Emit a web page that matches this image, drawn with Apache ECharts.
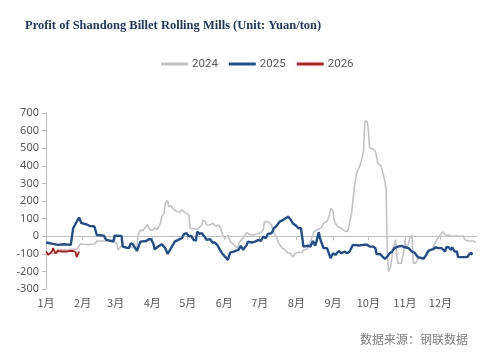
<!DOCTYPE html>
<html>
<head>
<meta charset="utf-8">
<script src="https://cdn.jsdelivr.net/npm/echarts@6/dist/echarts.min.js"></script>
<style>
html,body{margin:0;padding:0;background:#fff;}
#chart{width:494px;height:355px;}
</style>
</head>
<body>
<div id="chart"></div>
<script>
// Day-of-year of month starts and their labels
var monthStarts = [0, 31, 59, 90, 120, 151, 181, 212, 243, 273, 304, 334];
var monthLabels = ['1月','2月','3月','4月','5月','6月','7月','8月','9月','10月','11月','12月'];
var yTicks = [-300,-200,-100,0,100,200,300,400,500,600,700];

// 2024 (day of year, value)
var days2024 = [0,3,6,9,10,16,22,26,29,36,41,43,50,54,58,60,61,64,67,73,77,78,80,82,84,86,88,91,92,94,95,97,98,100,101,103,104,106,108,111,113,115,118,121,122,123,128,129,132,133,135,136,139,141,144,146,148,150,152,154,156,159,160,162,164,167,170,173,176,178,181,184,185,188,191,193,195,197,200,202,205,207,209,211,214,217,218,221,224,225,227,231,233,235,238,240,241,243,244,245,247,250,253,255,256,259,261,263,266,268,269,270,272,273,274,277,279,281,284,287,288,289,290,292,294,296,297,298,301,303,304,305,307,308,310,311,313,315,318,319,321,322,324,327,329,332,334,336,338,341,344,347,351,353,355,358,362,364];
var vals2024 = [-97,-100,-97,-100,-74,-78,-74,-74,-44,-48,-44,-27,-27,-21,-27,-44,-78,-54,-68,-63,-68,7,36,30,51,64,36,36,51,36,45,74,111,131,188,202,168,172,153,140,134,150,134,121,45,40,40,51,64,93,83,64,64,74,57,64,45,-2,-11,7,-31,-49,-40,-68,-31,-11,20,7,7,13,17,36,83,83,64,17,-2,-40,-68,-74,-97,-97,-119,-97,-93,-93,-78,-74,-30,-27,26,41,47,74,83,121,159,145,93,74,55,45,30,26,41,140,273,358,405,452,490,655,651,604,503,495,481,415,395,310,273,-87,-201,-170,-68,-21,-106,-153,-153,-87,-21,-70,-44,-11,7,-153,-153,-127,-119,-135,-119,-97,-78,-74,-44,-11,7,26,7,7,-2,2,-2,2,-21,-27,-27,-36];

// 2025
var days2025 = [0,6,10,15,21,23,28,30,34,37,41,43,49,51,57,58,64,65,70,72,74,77,80,85,87,88,89,91,92,95,98,101,103,105,108,109,112,115,117,119,121,122,123,125,127,128,130,132,134,136,139,141,143,145,146,149,152,154,156,159,161,163,165,167,170,171,174,177,180,182,184,186,188,191,193,195,198,201,202,205,207,209,211,214,216,218,219,222,224,226,228,229,231,232,235,238,241,243,245,248,250,253,255,257,260,265,269,272,274,277,279,280,283,285,287,289,291,293,295,298,301,304,307,310,312,315,318,320,322,324,326,328,330,332,335,336,338,339,341,343,344,346,348,349,352,355,357,358,360,361];
var vals2025 = [-36,-44,-49,-46,-49,45,106,74,68,59,55,7,3,-21,-31,3,2,-59,-68,-40,-49,-84,-31,-27,-17,-25,-17,-44,-74,-59,-46,-68,-100,-78,-44,-31,-21,-11,13,17,0,-11,2,-21,-25,26,13,17,0,-21,-17,-36,-36,-49,-55,-97,-119,-135,-93,-88,-82,-78,-55,-78,-49,-31,-36,-31,-21,-27,-2,-11,13,17,45,57,83,93,102,111,96,74,64,45,45,-59,-59,-54,-59,-27,-54,-31,23,-11,-68,-68,-125,-97,-106,-84,-97,-88,-97,-88,-49,-53,-49,-49,-59,-59,-68,-102,-102,-116,-129,-116,-97,-88,-68,-59,-55,-63,-68,-87,-93,-119,-125,-125,-106,-82,-78,-74,-63,-68,-68,-59,-87,-63,-63,-78,-63,-87,-87,-119,-119,-119,-119,-106,-93,-106];

// 2026
var days2026 = [0,2,5,6,8,10,13,18,20,23,25,26,28];
var vals2026 = [-87,-106,-87,-68,-97,-84,-87,-87,-84,-84,-90,-119,-87];

function zip(d, v) { return d.map(function (x, i) { return [x, v[i]]; }); }

var chart = echarts.init(document.getElementById('chart'), null, {renderer: 'canvas'});
var axisGray = '#bfbfbf';
var textGray = '#595959';
var option = {
  backgroundColor: '#ffffff',
  animation: false,
  title: {
    text: 'Profit of Shandong Billet Rolling Mills (Unit: Yuan/ton)',
    left: 20, top: 14,
    textStyle: {fontFamily: 'Liberation Serif', fontWeight: 'bold', fontSize: 12.5, color: '#1f3864'}
  },
  legend: {
    top: 53, left: 156,
    itemWidth: 27, itemHeight: 3, itemGap: 11,
    icon: 'rect',
    textStyle: {color: textGray, fontSize: 11.5, fontFamily: 'Roboto', padding: [0, 0, 0, -1]},
    data: ['2024', '2025', '2026']
  },
  grid: {left: 46, right: 17, top: 113, bottom: 66, containLabel: false},
  xAxis: [{
    type: 'value', min: 0, max: 365, position: 'bottom',
    axisLine: {show: false, onZero: false},
    axisTick: {show: false},
    splitLine: {show: false},
    axisLabel: {
      customValues: monthStarts, margin: 8,
      color: textGray, fontSize: 11, fontFamily: 'Noto Sans CJK SC',
      formatter: function (v) { var i = monthStarts.indexOf(v); return i >= 0 ? monthLabels[i] : ''; }
    }
  }, {
    type: 'value', min: 0, max: 365, position: 'top',
    axisLine: {show: true, onZero: true, lineStyle: {color: axisGray, width: 1}},
    axisTick: {show: true, inside: true, length: 4, customValues: monthStarts, lineStyle: {color: axisGray}},
    axisLabel: {show: false},
    splitLine: {show: false}
  }],
  yAxis: {
    type: 'value', min: yTicks[0], max: yTicks[yTicks.length - 1], interval: 100,
    axisLine: {show: true, lineStyle: {color: axisGray}},
    axisTick: {show: true, length: 4, lineStyle: {color: axisGray}},
    splitLine: {show: false},
    axisLabel: {color: textGray, fontSize: 11, fontFamily: 'Noto Sans', margin: 7}
  },
  series: [{
    name: '2024', type: 'line', xAxisIndex: 0, data: zip(days2024, vals2024),
    showSymbol: false, symbol: 'none',
    lineStyle: {color: '#c3c3c3', width: 1.6}, itemStyle: {color: '#c3c3c3'}, z: 1
  }, {
    name: '2025', type: 'line', xAxisIndex: 0, data: zip(days2025, vals2025),
    showSymbol: false, symbol: 'none',
    lineStyle: {color: '#1f4e91', width: 2.4}, itemStyle: {color: '#1f4e91'}, z: 3
  }, {
    name: '2026', type: 'line', xAxisIndex: 0, data: zip(days2026, vals2026),
    showSymbol: false, symbol: 'none',
    lineStyle: {color: '#b81d1d', width: 1.8}, itemStyle: {color: '#b81d1d'}, z: 4
  }],
  graphic: [{
    type: 'text', right: 26, top: 333,
    style: {text: '数据来源：钢联数据', fill: '#7f7f7f', font: '12px "Noto Sans CJK SC"'}
  }]
};
chart.setOption(option);
</script>
</body>
</html>
